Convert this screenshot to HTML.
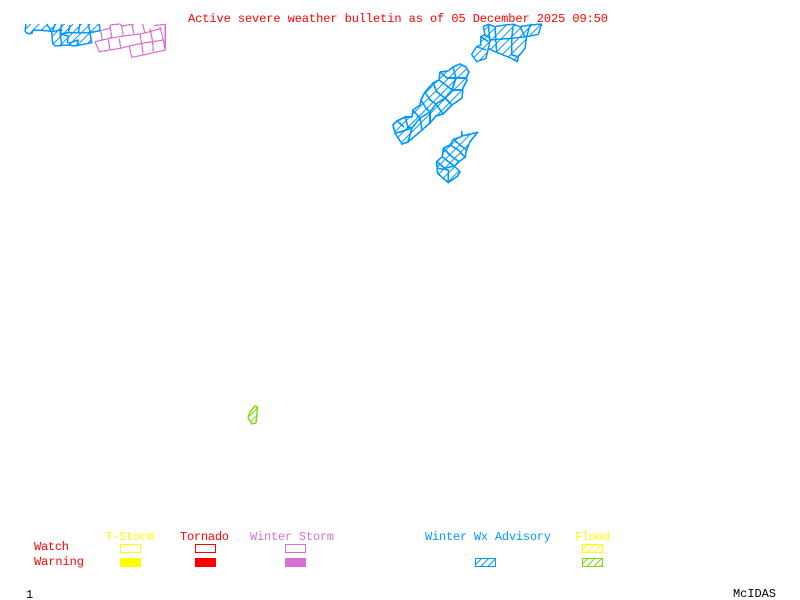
<!DOCTYPE html>
<html>
<head>
<meta charset="utf-8">
<style>
html,body{margin:0;padding:0;background:#fff;width:800px;height:600px;overflow:hidden}
svg{display:block;shape-rendering:crispEdges}
text{font-family:"Liberation Mono",monospace;font-size:12px}
</style>
</head>
<body>
<svg width="800" height="600" viewBox="0 0 800 600" xmlns="http://www.w3.org/2000/svg">
<defs>
<pattern id="hb" patternUnits="userSpaceOnUse" width="6" height="6" patternTransform="rotate(45)">
<rect width="6" height="6" fill="#fff"/><rect x="0" y="0" width="1.2" height="6" fill="#0099ff"/>
</pattern>
<pattern id="hb3" patternUnits="userSpaceOnUse" width="18" height="18" patternTransform="rotate(45)">
<rect width="18" height="18" fill="#fff"/><rect x="0" y="0" width="3.600" height="18" fill="#0099ff"/>
</pattern>
<pattern id="hg" patternUnits="userSpaceOnUse" width="5" height="5" patternTransform="rotate(45)">
<rect width="5" height="5" fill="#fff"/><rect x="0" y="0" width="1.1" height="5" fill="#76dd00"/>
</pattern>
<pattern id="hy" patternUnits="userSpaceOnUse" width="5" height="5" patternTransform="rotate(45)">
<rect width="5" height="5" fill="#fff"/><rect x="0" y="0" width="1.1" height="5" fill="#ffff00"/>
</pattern>
<pattern id="hl" patternUnits="userSpaceOnUse" width="5" height="5" patternTransform="rotate(45)">
<rect width="5" height="5" fill="#fff"/><rect x="0" y="0" width="1.1" height="5" fill="#0099ff"/>
</pattern>
</defs>

<!-- Title -->
<text x="188" y="22" fill="#ff0000" textLength="420" lengthAdjust="spacing">Active severe weather bulletin as of 05 December 2025 09:50</text>

<!-- Pink winter storm grid, top left -->
<g transform="translate(10,10) scale(.3333)" fill="none" stroke="#da70d6" stroke-width="3.600">
<path d="M270 62L300 55L300 45L330 42L335 48L365 43L372 46M398 42L405 70M430 47L466 43L466 120L400 135L365 142L358 108L330 115L300 120L268 125L255 95"/>
<path d="M300 45L305 80L300 85M335 48L340 78M365 43L372 70M420 55L428 95L430 125M450 50L460 90L466 120M255 95L300 85L340 78L390 72L420 65L455 55M358 108L395 100L460 90M295 88L300 120M328 85L332 115M390 72L395 100L400 135M272 60L277 90"/>
</g>

<!-- Blue advisory top left -->
<g transform="translate(10,10) scale(.3333)" stroke="#0099ff" stroke-width="4.500" fill="url(#hb3)" stroke-linejoin="round">
<path d="M47 42L46 65L55 72L66 70L70 60L110 62L125 65L128 100L135 108L175 105L195 108L245 98L240 68L270 62L268 42"/>
<path fill="none" d="M110 42L125 65L155 60L150 72L155 100L150 108M155 42L150 72L175 68L180 45M175 68L205 68L210 42M205 68L240 68M150 72L175 78L172 100M135 42L128 62M200 108L205 90L175 100M235 42L240 68"/>
</g>

<!-- Blue top right group -->
<g transform="translate(380,15) scale(.3333)" stroke="#0099ff" stroke-width="4.500" fill="url(#hb3)" stroke-linejoin="round">
<path d="M310 35L325 28L345 35L375 30L400 28L420 35L450 30L485 27L475 58L440 65L435 100L415 125L412 140L390 128L345 110L325 100L318 130L290 140L275 118L290 95L302 90L302 65L315 60Z"/>
<path fill="none" d="M325 28L330 80L325 100M345 35L350 110M330 75L395 70L395 120M395 70L440 65M400 28L395 70M420 35L435 65M450 30L440 65M302 65L325 80M290 95L318 105M310 35L315 60L330 70M395 120L415 125"/>
</g>

<!-- Blue middle group -->
<g stroke="#0099ff" stroke-width="1.6" fill="url(#hb)" stroke-linejoin="round">
<path d="M453 67L460 64L466 67L469 72L466 78L467 80L463 88L462 98L452 105L443 114L436 116L430 123L422 130L408 142L402 144L395 133L393 125L397 121L405 117L412 117L413 110L420 105L421 100L425 92L433 83L439 80L440 72L448 71Z"/>
<path fill="none" d="M453 67L456 78L466 78M440 72L447 78L456 78L452 90L462 90M439 80L447 86L452 90L445 98L452 105M433 83L437 92L445 98L436 104L443 114M425 92L430 100L436 104L430 112L430 123M421 100L426 108L430 112L420 118L422 130M413 110L418 116L420 118L412 128L408 142M405 117L408 127L412 128L400 132L395 133M397 121L404 127"/>
</g>

<!-- Blue lower group -->
<g transform="translate(385,100) scale(.3333)" stroke="#0099ff" stroke-width="4.800" fill="url(#hb3)" stroke-linejoin="round">
<path d="M230 95L232 108L278 97L255 125L245 150L240 172L222 185L208 198L225 215L218 228L190 248L175 235L158 220L155 185L172 170L175 145L195 135L205 118L230 110Z"/>
<path fill="none" d="M205 118L225 135L245 150M195 135L220 150L240 172M175 145L195 165L222 185M172 170L190 185L208 198M155 185L180 205L208 198M158 205L190 210L190 248"/>
</g>

<!-- Green flood polygon -->
<path d="M255 406L257.500 407L257 413L256 423L252 424L248 418L250 412Z" fill="url(#hg)" stroke="#76dd00" stroke-width="1.4"/>

<!-- Legend labels -->
<text x="105" y="540" fill="#ffff00" textLength="49">T-Storm</text>
<text x="180" y="540" fill="#ff0000" textLength="49">Tornado</text>
<text x="250" y="540" fill="#da70d6" textLength="84">Winter Storm</text>
<text x="425" y="540" fill="#0099ff" textLength="126">Winter Wx Advisory</text>
<text x="575" y="540" fill="#ffff00" textLength="35">Flood</text>
<text x="34" y="550" fill="#ff0000" textLength="35">Watch</text>
<text x="34" y="565" fill="#ff0000" textLength="50">Warning</text>
<text x="26" y="598" fill="#000" textLength="7">1</text>
<text x="733" y="597" fill="#000" textLength="43">McIDAS</text>

<!-- Legend boxes -->
<rect x="120.500" y="544.500" width="20" height="8" fill="#fff" stroke="#ffff00"/>
<rect x="120" y="558" width="21" height="9" fill="#ffff00"/>
<rect x="195.500" y="544.500" width="20" height="8" fill="#fff" stroke="#ff0000"/>
<rect x="195" y="558" width="21" height="9" fill="#ff0000"/>
<rect x="285.500" y="544.500" width="20" height="8" fill="#fff" stroke="#da70d6"/>
<rect x="285" y="558" width="21" height="9" fill="#da70d6"/>
<rect x="475.500" y="558.500" width="20" height="8" fill="url(#hl)" stroke="#0099ff"/>
<rect x="582.500" y="544.500" width="20" height="8" fill="url(#hy)" stroke="#ffff00"/>
<rect x="582.500" y="558.500" width="20" height="8" fill="url(#hg)" stroke="#76dd00"/>
</svg>
</body>
</html>
